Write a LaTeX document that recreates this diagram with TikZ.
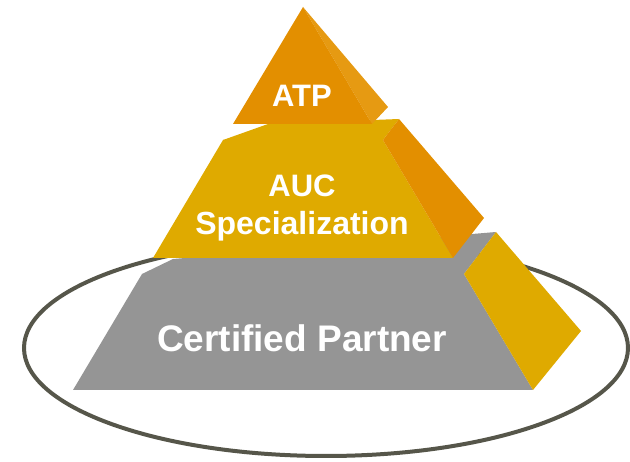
\documentclass[tikz,border=0pt]{standalone}
\usepackage{fontspec}
\setmainfont{Liberation Sans}
\definecolor{ringc}{HTML}{56564A}
\definecolor{orangeA}{HTML}{E38F00}
\definecolor{orangeB}{HTML}{E69A12}
\definecolor{goldA}{HTML}{DFAA00}
\definecolor{grayA}{HTML}{959595}
\begin{document}
\begin{tikzpicture}[x=1pt,y=-1pt,
  label/.style={text=white,font=\bfseries,anchor=base,inner sep=0pt,align=center}]
\useasboundingbox (0,0) rectangle (630,462);
% ring
\draw[ringc,line width=4pt] (326,348) ellipse [x radius=302,y radius=108];
% bottom layer
\fill[grayA] (142,274) -- (173,259) -- (496,232) -- (464,274) -- cycle;
\fill[grayA] (142,274) -- (464,274) -- (533,390) -- (73,390) -- cycle;
\fill[goldA] (464,274) -- (496,232) -- (581,331) -- (533,390) -- cycle;
% middle layer
\fill[goldA] (223,140) -- (268,124) -- (399,119) -- (383,140) -- cycle;
\fill[goldA] (223,140) -- (383,140) -- (453,258) -- (153,258) -- cycle;
\fill[orangeA] (383,140) -- (399,119) -- (484,218) -- (453,258) -- cycle;
% top layer
\fill[orangeB] (303,7) -- (388,107) -- (372,124) -- cycle;
\fill[orangeA] (303,7) -- (372,124) -- (233,124) -- cycle;
% labels
\node[label,font=\bfseries\fontsize{31}{36}\selectfont] (atp) at (302,107) {ATP};
\node[label,font=\bfseries\fontsize{31}{36}\selectfont] (auc) at (302,197) {AUC};
\node[label,font=\bfseries\fontsize{32}{38}\selectfont] (spec) at (302,235) {Specialization};
\node[label,font=\bfseries\fontsize{37}{42}\selectfont] (cert) at (302,352) {Certified Partner};
\end{tikzpicture}
\end{document}
